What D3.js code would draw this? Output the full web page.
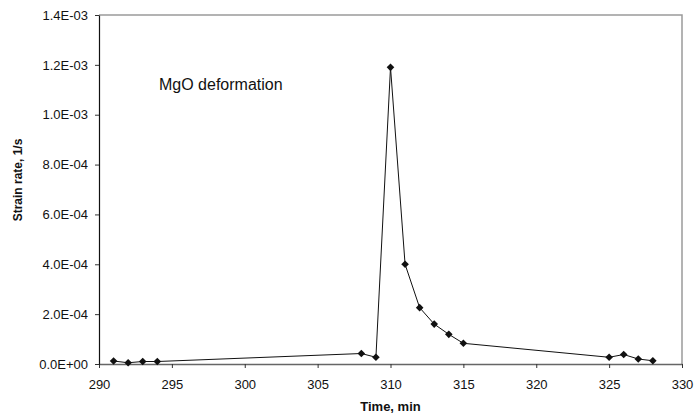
<!doctype html>
<html>
<head>
<style>
  body { margin: 0; background: #fff; }
  text { font-family: "Liberation Sans", Arial, sans-serif; }
</style>
<script src="https://d3js.org/d3.v7.min.js"></script>
</head>
<body>
<svg width="696" height="418"></svg>
<script>
// time (min) and strain rate (1/s)
var times = [291, 292, 293, 294, 308, 309, 310, 311, 312, 313, 314, 315, 325, 326, 327, 328];
var rates = [1.2e-5, 5e-6, 1e-5, 1e-5, 4.2e-5, 2.7e-5, 1.19e-3, 4.0e-4, 2.26e-4, 1.6e-4, 1.19e-4, 8.3e-5, 2.7e-5, 3.8e-5, 2e-5, 1.3e-5];
var xTicks = [290, 295, 300, 305, 310, 315, 320, 325, 330];
var yTicks = [0, 2e-4, 4e-4, 6e-4, 8e-4, 1e-3, 1.2e-3, 1.4e-3];

var data = times.map(function(t, i) { return {t: t, v: rates[i]}; });

var svg = d3.select("svg");
var pLeft = 99, pRight = 682, pTop = 15, pBottom = 364;

var x = d3.scaleLinear().domain([290, 330]).range([pLeft, pRight]);
var y = d3.scaleLinear().domain([0, 1.4e-3]).range([pBottom, pTop]);

// plot frame (top and right in grey)
svg.append("path")
   .attr("d", "M" + pLeft + "," + pTop + "H" + pRight + "V" + pBottom)
   .attr("fill", "none")
   .attr("stroke", "#9a9a9a")
   .attr("stroke-width", 1.5);

// x axis
var xa = svg.append("g")
   .attr("transform", "translate(0," + pBottom + ")")
   .call(d3.axisBottom(x).tickValues(xTicks).tickSize(4).tickSizeOuter(0).tickPadding(12));
xa.select(".domain").attr("stroke", "#666").attr("stroke-width", 1.5);
xa.selectAll("line").attr("stroke", "#333");
xa.selectAll("text").attr("font-size", 13).attr("fill", "#111")
  .attr("font-family", "'Liberation Sans', Arial, sans-serif");

// y axis
var ya = svg.append("g")
   .attr("transform", "translate(" + pLeft + ",0)")
   .call(d3.axisLeft(y).tickValues(yTicks).tickSize(4).tickSizeOuter(0).tickPadding(7)
     .tickFormat(function(d) {
       var s = d.toExponential(1).toUpperCase();
       return s.replace(/E([+-])(\d)$/, "E$10$2");
     }));
ya.select(".domain").attr("stroke", "#111").attr("stroke-width", 1.2);
ya.selectAll("line").attr("stroke", "#333");
ya.selectAll("text").attr("font-size", 13).attr("fill", "#111")
  .attr("font-family", "'Liberation Sans', Arial, sans-serif");

// the series line
svg.append("path")
   .datum(data)
   .attr("fill", "none")
   .attr("stroke", "#111")
   .attr("stroke-width", 1)
   .attr("d", d3.line().x(function(d) { return x(d.t); }).y(function(d) { return y(d.v); }));

// diamond markers
svg.selectAll(".pt")
   .data(data)
   .enter().append("path")
   .attr("class", "pt")
   .attr("transform", function(d) { return "translate(" + x(d.t) + "," + y(d.v) + ")"; })
   .attr("d", "M0,-3.8L3.8,0L0,3.8L-3.8,0Z")
   .attr("fill", "#111");

// annotation
svg.append("text")
   .attr("x", 159).attr("y", 90)
   .attr("font-size", 16)
   .attr("fill", "#111")
   .text("MgO deformation");

// axis titles
svg.append("text")
   .attr("x", (pLeft + pRight) / 2).attr("y", 411)
   .attr("text-anchor", "middle")
   .attr("font-size", 13).attr("font-weight", "bold")
   .attr("fill", "#111")
   .text("Time, min");

svg.append("text")
   .attr("transform", "translate(22,180) rotate(-90)")
   .attr("text-anchor", "middle")
   .attr("font-size", 12).attr("font-weight", "bold")
   .attr("fill", "#111")
   .text("Strain rate, 1/s");
</script>
</body>
</html>
